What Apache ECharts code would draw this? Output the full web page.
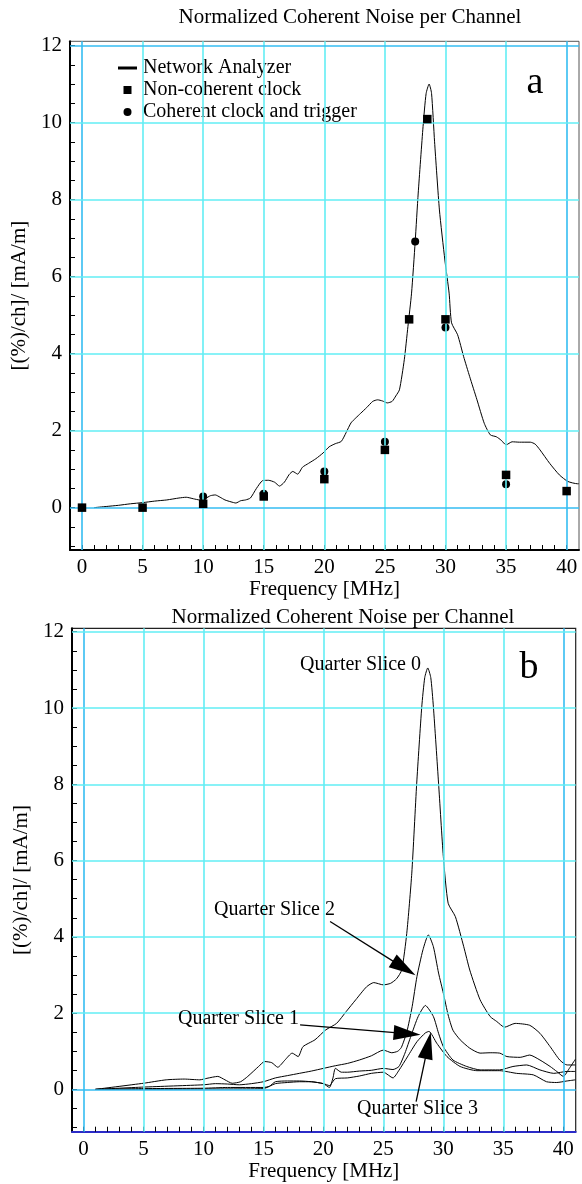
<!DOCTYPE html>
<html><head><meta charset="utf-8">
<script src="https://cdn.jsdelivr.net/npm/echarts@6/dist/echarts.min.js"></script>
<style>html,body{margin:0;padding:0;background:#fff}#c{width:582px;height:1184px}</style>
</head><body><div id="c"></div>
<script>
// ---- Panel a: Network Analyzer curve ----
const naX = [1,2,3,4,5,6,7,8,8.6,9.2,9.7,10.2,10.6,11,11.4,11.8,12.3,12.7,13.1,13.5,13.9,14.4,14.9,15.4,15.9,16.3,16.7,17.1,17.4,17.8,18.2,18.7,19.3,19.9,20.4,20.9,21.4,21.8,22.2,22.6,23,23.5,24,24.4,24.8,25.2,25.6,25.9,26.2,26.6,26.9,27.2,27.5,27.75,28.15,28.4,28.65,28.85,29.1,29.5,29.95,30.3,30.5,31,31.5,32,32.6,33.2,33.7,34.2,34.6,35,35.5,36.1,37,37.4,37.8,38.6,39.4,40.1,40.9,41];
const naY = [0,0.03,0.06,0.1,0.13,0.17,0.2,0.25,0.27,0.23,0.2,0.24,0.31,0.33,0.27,0.2,0.15,0.12,0.18,0.2,0.25,0.5,0.7,0.71,0.66,0.56,0.66,0.86,0.94,0.87,1.05,1.15,1.27,1.42,1.58,1.66,1.72,1.95,2.2,2.33,2.45,2.6,2.76,2.8,2.77,2.72,2.76,2.9,3.06,3.84,4.7,5.57,6.91,8.17,9.9,10.75,11.0,10.76,9.5,7.73,6.43,5.57,4.8,4.49,3.92,3.4,2.8,2.19,1.89,1.84,1.75,1.63,1.71,1.7,1.7,1.65,1.5,1.15,0.85,0.68,0.62,0.62];
// Non-coherent clock (squares)
const sqX = [0,5,10,15,20,25,27,28.5,30,35,40];
const sqY = [0,0,0.1,0.29,0.74,1.5,4.89,10.09,4.89,0.85,0.43];
// Coherent clock and trigger (circles)
const ciX = [10,15,20,25,27.5,30,35];
const ciY = [0.29,0.36,0.94,1.71,6.91,4.68,0.61];

// ---- Panel b: Quarter slices ----
const q0X = [1,5,6.9,8.4,9.7,10.3,11.2,11.8,12.4,13.1,13.7,14.6,15.1,15.7,16.2,16.8,17.4,17.9,18.3,19.3,20.2,21.1,21.9,22.7,23.6,24.2,25,25.6,26.1,26.53,26.95,27.37,27.78,28.2,28.45,28.7,28.95,29.17,29.6,30,30.4,31,31.7,32.2,33.06,33.9,34.45,35.1,35.98,37.2,38.05,38.9,39.7,40.3,41];
const q0Y = [0,0.16,0.25,0.27,0.25,0.29,0.34,0.25,0.16,0.2,0.34,0.6,0.73,0.7,0.58,0.77,0.95,0.86,1.12,1.3,1.56,1.73,2.04,2.35,2.69,2.8,2.74,2.78,2.9,3.13,4.09,5.67,8.03,10.03,10.8,11.05,10.8,10.03,8.03,6.1,4.88,4.53,3.74,3.13,2.35,1.91,1.78,1.63,1.73,1.68,1.47,1.12,0.77,0.64,0.64];
const q1X = [1,5,10,12,15,15.5,16,17,18,19,20,20.5,20.8,21,21.5,22,23,24,25,25.8,26.3,26.8,27.3,27.9,28.5,29.17,29.6,30,30.8,31.95,33.06,34.7,35.8,36.95,38.05,39.2,40.3,41];
const q1Y = [0,0.02,0.03,0.05,0.05,0.08,0.2,0.22,0.22,0.2,0.15,0.05,0.3,0.55,0.45,0.45,0.48,0.5,0.55,0.52,0.6,0.95,1.4,1.91,2.2,1.91,1.47,1.12,0.77,0.6,0.51,0.51,0.6,0.64,0.51,0.42,0.47,0.47];
const q2X = [1,5,10,11,12,13,14,15,16,17,18,19,20,21,22,23,24,25,25.7,26.2,26.5,26.95,27.4,27.8,28.3,28.75,29.17,29.6,30,30.4,30.8,31.4,32.2,33.06,33.9,34.7,35.3,36.4,37.2,38.05,38.9,39.45,40,40.5,41];
const q2Y = [0,0.06,0.12,0.15,0.14,0.12,0.15,0.2,0.3,0.36,0.42,0.48,0.55,0.62,0.68,0.77,0.88,1.03,0.96,1.0,1.1,1.5,2.17,2.96,3.66,4.05,3.74,3.05,2.52,1.95,1.55,1.3,1.08,0.95,0.96,0.95,0.86,0.84,0.9,0.77,0.6,0.47,0.34,0.55,0.79];
const q3X = [1,5,10,15,16,17,18,19,20,20.5,21,22,23,24,25,25.8,26.3,27,27.8,28.5,28.8,29.45,30.3,31.4,32.8,34.7,36.1,37.5,38.6,39.45,40.3,41];
const q3Y = [0,0,0.01,0.02,0.15,0.18,0.2,0.2,0.15,0.1,0.28,0.3,0.35,0.42,0.45,0.3,0.5,0.85,1.25,1.48,1.52,1.21,0.86,0.6,0.49,0.49,0.42,0.38,0.2,0.18,0.22,0.25];

// ---- Axis ticks / labels ----
const xLabelVals = [0,5,10,15,20,25,30,35,40];
const yLabelVals = [0,2,4,6,8,10,12];
const xMinorVals = [0,1,2,3,4,5,6,7,8,9,10,11,12,13,14,15,16,17,18,19,20,21,22,23,24,25,26,27,28,29,30,31,32,33,34,35,36,37,38,39,40];
const yMinorVals = [-1,-0.5,0,0.5,1,1.5,2,2.5,3,3.5,4,4.5,5,5.5,6,6.5,7,7.5,8,8.5,9,9.5,10,10.5,11,11.5,12];

const FONT = '"Liberation Serif", "Times New Roman", serif';
const CYAN = '#62eef4';
const BLUE = '#34bdf2';
const pairs = (xs, ys) => xs.map((x, i) => [x, ys[i]]);

function gridLines(idx, blueY) {
  const d = [];
  xLabelVals.forEach(v => d.push({xAxis: v, lineStyle: {color: (v === 0 || v === 40) ? BLUE : CYAN}}));
  yLabelVals.forEach(v => d.push({yAxis: v, lineStyle: {color: blueY.indexOf(v) >= 0 ? BLUE : CYAN}}));
  return {
    type: 'line', xAxisIndex: idx, yAxisIndex: idx, data: [], silent: true, z: 1,
    markLine: {silent: true, symbol: 'none', animation: false, label: {show: false},
      lineStyle: {type: 'solid', width: 1.6}, data: d}
  };
}

function xAxisDef(idx, min, max, lineColor) {
  return {
    type: 'value', gridIndex: idx, min: min, max: max,
    name: 'Frequency [MHz]', nameLocation: 'middle', nameGap: 27,
    nameTextStyle: {fontFamily: FONT, fontSize: 21, color: '#000'},
    axisLine: {show: true, onZero: false, lineStyle: {color: lineColor, width: 2}},
    axisTick: {show: true, inside: true, length: 5, customValues: xMinorVals, lineStyle: {color: '#000', width: 1}},
    axisLabel: {show: true, customValues: xLabelVals, fontFamily: FONT, fontSize: 21, color: '#000', margin: 7},
    splitLine: {show: false}
  };
}
function yAxisDef(idx, min, max) {
  return {
    type: 'value', gridIndex: idx, min: min, max: max,
    name: '[(%)/ch]/ [mA/m]', nameLocation: 'middle', nameGap: 35,
    nameTextStyle: {fontFamily: FONT, fontSize: 21, color: '#000'},
    axisLine: {show: true, onZero: false, lineStyle: {color: '#000', width: 2}},
    axisTick: {show: true, inside: true, length: 5, customValues: yMinorVals, lineStyle: {color: '#000', width: 1}},
    axisLabel: {show: true, customValues: yLabelVals, fontFamily: FONT, fontSize: 21, color: '#000', margin: 8},
    splitLine: {show: false}
  };
}

const lineSeries = (name, xs, ys, idx) => ({
  name: name, type: 'line', xAxisIndex: idx, yAxisIndex: idx, data: pairs(xs, ys),
  showSymbol: false, smooth: 0.2, z: 3, silent: true,
  lineStyle: {color: '#000', width: 1}, itemStyle: {color: '#000'}
});

const arrowSeries = {
  type: 'line', xAxisIndex: 1, yAxisIndex: 1, data: [], silent: true, z: 4,
  markLine: {
    silent: true, animation: false, symbol: ['none', 'triangle'], symbolSize: [15, 27],
    label: {show: false}, lineStyle: {type: 'solid', color: '#000', width: 1.3},
    itemStyle: {color: '#000'},
    data: [
      [{coord: [20.56, 4.4]}, {coord: [26.73, 3.18]}],
      [{coord: [18.06, 1.69]}, {coord: [26.98, 1.46]}],
      [{coord: [27.73, -0.32]}, {coord: [28.72, 1.15]}]
    ]
  }
};

const txt = (x, y, s, size, align) => ({
  type: 'text', x: x, y: y, silent: true, z: 10,
  style: {text: s, fontFamily: FONT, fontSize: size, fill: '#000', align: align || 'center', verticalAlign: 'middle'}
});

const option = {
  animation: false,
  backgroundColor: '#fff',
  textStyle: {fontFamily: FONT, color: '#000'},
  title: [
    {text: 'Normalized Coherent Noise per Channel', left: 345, top: 2, textAlign: 'center',
      textStyle: {fontFamily: FONT, fontSize: 21, fontWeight: 'normal', color: '#000'}},
    {text: 'Normalized Coherent Noise per Channel', left: 338, top: 602, textAlign: 'center',
      textStyle: {fontFamily: FONT, fontSize: 21, fontWeight: 'normal', color: '#000'}}
  ],
  legend: {
    left: 113, top: 52, orient: 'vertical', itemWidth: 19, itemHeight: 8, itemGap: 0,
    selectedMode: false,
    textStyle: {fontFamily: FONT, fontSize: 20, color: '#000', lineHeight: 22, padding: [0, 0, 0, 1]},
    data: [
      {name: 'Network Analyzer', icon: 'path://M0,0H19V3H0Z', itemStyle: {color: '#000', opacity: 1}},
      {name: 'Non-coherent clock', icon: 'path://M0,0H10V10H0Z', itemStyle: {color: '#000', opacity: 1}},
      {name: 'Coherent clock and trigger', icon: 'path://M5,0A5,5,0,1,1,5,10A5,5,0,1,1,5,0Z', itemStyle: {color: '#000', opacity: 1}}
    ]
  },
  grid: [
    {left: 70, top: 41.3, width: 509, height: 508.7, show: true, borderColor: '#555', borderWidth: 1, backgroundColor: 'transparent'},
    {left: 72, top: 628.3, width: 503.7, height: 503.4, show: true, borderColor: '#222', borderWidth: 1.2, backgroundColor: 'transparent'}
  ],
  xAxis: [xAxisDef(0, -0.99, 41.02, '#000'), xAxisDef(1, -0.95, 41.03, '#2b2bc8')],
  yAxis: [yAxisDef(0, -1.1, 12.11), yAxisDef(1, -1.11, 12.09)],
  series: [
    gridLines(0, [0, 12]),
    gridLines(1, [0]),
    lineSeries('Network Analyzer', naX, naY, 0),
    {name: 'Coherent clock and trigger', type: 'scatter', xAxisIndex: 0, yAxisIndex: 0, z: 4, silent: true,
      data: pairs(ciX, ciY), symbol: 'circle', symbolSize: 8, itemStyle: {color: '#000', opacity: 1}},
    {name: 'Non-coherent clock', type: 'scatter', xAxisIndex: 0, yAxisIndex: 0, z: 5, silent: true,
      data: pairs(sqX, sqY), symbol: 'rect', symbolSize: 8.5, itemStyle: {color: '#000', opacity: 1}},
    lineSeries('Quarter Slice 0', q0X, q0Y, 1),
    lineSeries('Quarter Slice 1', q1X, q1Y, 1),
    lineSeries('Quarter Slice 2', q2X, q2Y, 1),
    lineSeries('Quarter Slice 3', q3X, q3Y, 1),
    arrowSeries
  ],
  graphic: [
    txt(535, 83, 'a', 38),
    txt(529, 668, 'b', 38),
    txt(421, 665, 'Quarter Slice 0', 20, 'right'),
    txt(335, 910, 'Quarter Slice 2', 20, 'right'),
    txt(299, 1019, 'Quarter Slice 1', 20, 'right'),
    txt(478, 1109, 'Quarter Slice 3', 20, 'right')
  ]
};

const chart = echarts.init(document.getElementById('c'), null, {renderer: 'canvas'});
chart.setOption(option);
</script>
</body></html>
